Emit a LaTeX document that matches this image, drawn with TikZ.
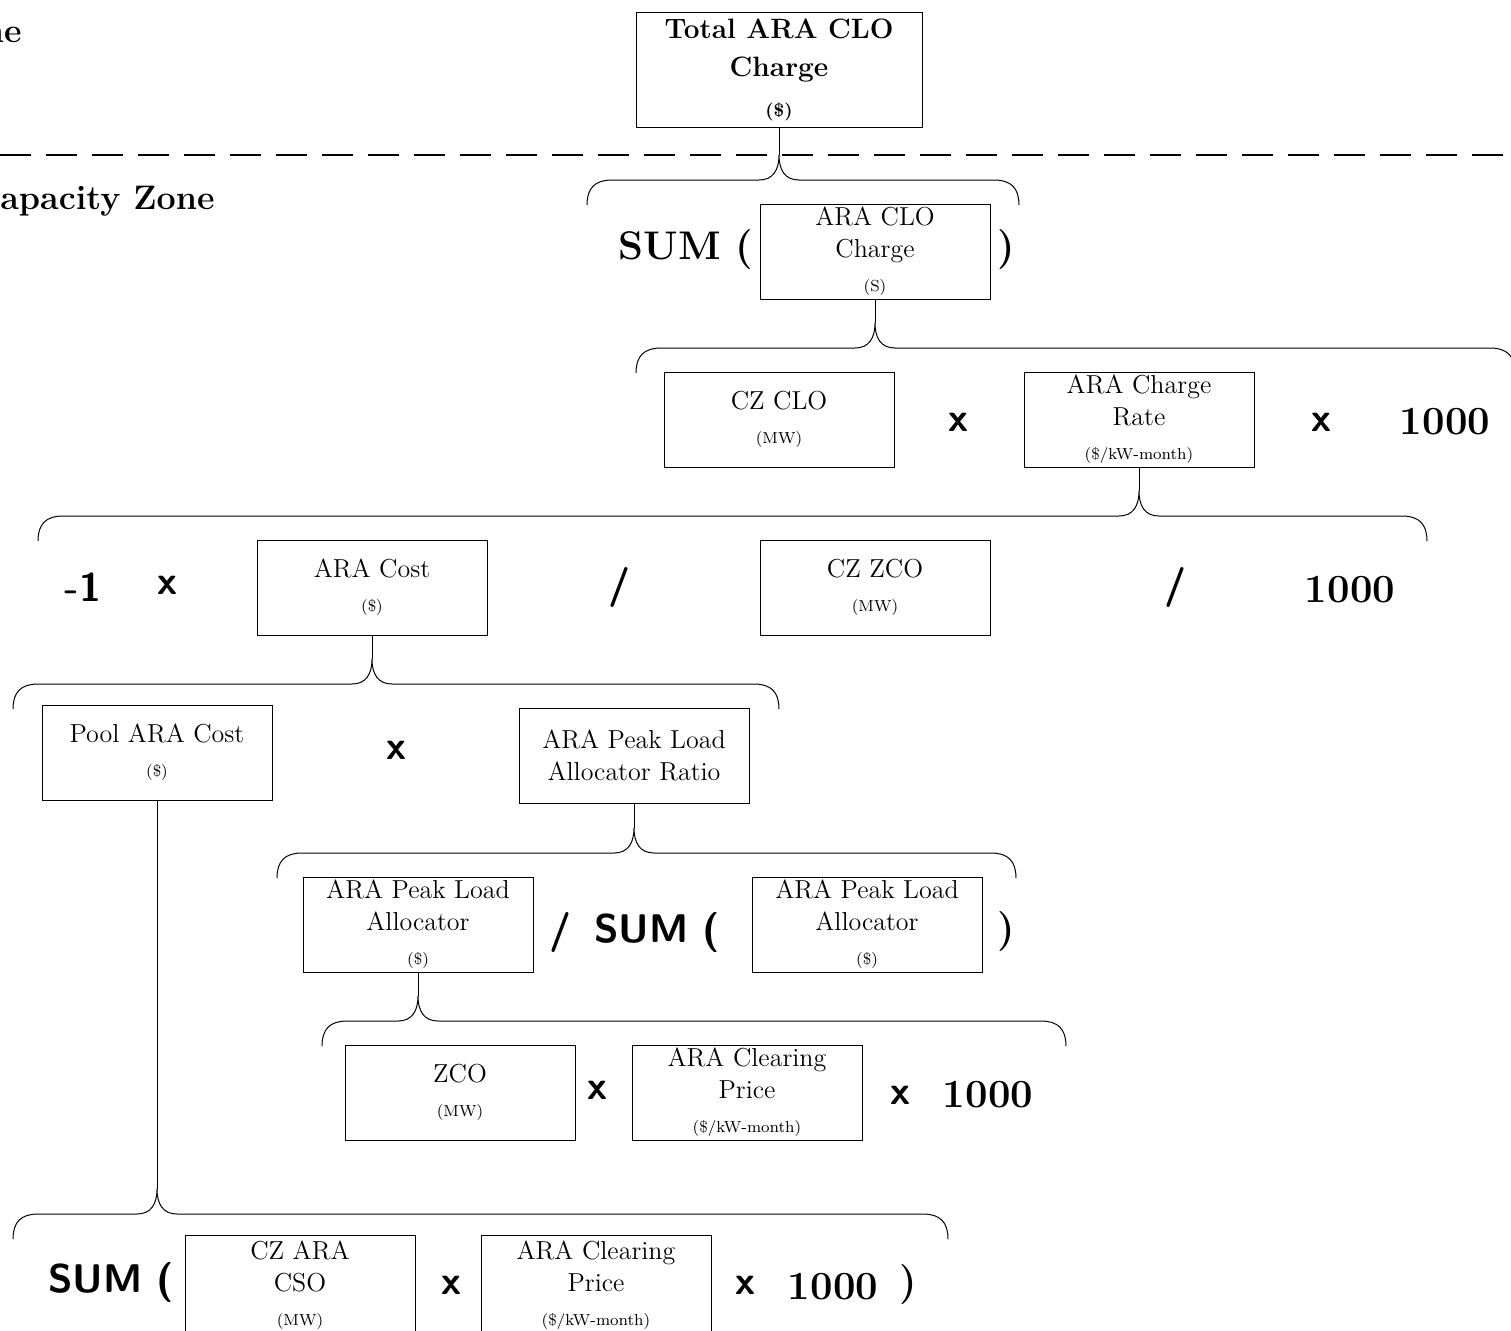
\documentclass[tikz,border=0pt]{standalone}
\usepackage{tikz}

\newcommand{\smallu}[1]{{\fontsize{8}{10}\selectfont #1}}
% curly brace hanging under a tip coordinate, ends given relative to the tip
\newcommand{\zbrace}[3]{%
  \draw[brace, shift={(#1)}] (#2,50) .. controls (#2,33) and (#2+8,25) .. (#2+25,25)
    -- (-20,25) .. controls (-6,25) and (0,15) .. (0,0)
    .. controls (0,15) and (6,25) .. (20,25)
    -- (#3-25,25) .. controls (#3-8,25) and (#3,33) .. (#3,50);}

\begin{document}
\begin{tikzpicture}[x=0.5pt, y=-0.5pt,
    box/.style={draw, line width=0.5pt, minimum width=115pt, minimum height=47.5pt, inner sep=0pt, align=center, font=\fontsize{13}{16}\selectfont},
    op/.style={inner sep=0pt, font=\sffamily\bfseries\fontsize{20}{22}\selectfont},
    opbig/.style={inner sep=0pt, font=\sffamily\bfseries\fontsize{20}{24}\selectfont},
    big/.style={inner sep=0pt, font=\bfseries\fontsize{20}{24}\selectfont},
    zonelbl/.style={inner sep=0pt, font=\bfseries\fontsize{17}{20}\selectfont},
    brace/.style={line width=0.5pt},
    zonesep/.style={line width=1pt, dash pattern=on 15.5pt off 7.5pt}
]
\useasboundingbox (0,0) rectangle (1511,1330);

% zone labels and separator
\node[zonelbl, anchor=east] (zonetop) at (22,35) {ne};
\node[zonelbl, anchor=west] (zonecap) at (0,201) {apacity Zone};
\draw[zonesep] (0,155) -- (1511,155);

% top level
\node[box, minimum width=143pt, minimum height=57.5pt, font=\bfseries\fontsize{14}{19}\selectfont] (total) at (779,69.5) {Total ARA CLO\\Charge\\[1pt]{\fontsize{9}{10}\selectfont (\$)}};
\coordinate (t1) at (779,155);
\draw[brace] (total.south) -- (t1);
\zbrace{t1}{-192}{240}

\node[big] (sum1) at (686,250) {SUM (};
\node[box] (clo) at (875,251.5) {ARA CLO\\Charge\\[1pt]\smallu{(S)}};
\node[big] (cls1) at (1006,250) {)};
\coordinate (t2) at (875,323);
\draw[brace] (clo.south) -- (t2);
\zbrace{t2}{-239}{640}

% CLO x rate x 1000
\node[box] (czclo) at (779,419.5) {CZ CLO\\[1pt]\smallu{(MW)}};
\node[op] (m1) at (958,422) {x};
\node[box] (rate) at (1139,419.5) {ARA Charge\\Rate\\[1pt]\smallu{(\$/kW-month)}};
\node[op] (m2) at (1321,422) {x};
\node[big] (k1) at (1445,422) {1000};
\coordinate (t3) at (1139,491);
\draw[brace] (rate.south) -- (t3);
\zbrace{t3}{-1101}{288}

% -1 x cost / zco / 1000
\node[opbig] (neg) at (83,587) {-1};
\node[op] (m3) at (167,585) {x};
\node[box] (cost) at (372,587.5) {ARA Cost\\[1pt]\smallu{(\$)}};
\node[opbig] (d1) at (619,587) {/};
\node[box] (czzco) at (875,587.5) {CZ ZCO\\[1pt]\smallu{(MW)}};
\node[opbig] (d2) at (1175,587) {/};
\node[big] (k2) at (1350,590) {1000};
\coordinate (t4) at (372,659);
\draw[brace] (cost.south) -- (t4);
\zbrace{t4}{-359}{407}

% pool cost x ratio
\node[box] (pool) at (157,752.5) {Pool ARA Cost\\[1pt]\smallu{(\$)}};
\node[op] (m4) at (396,750) {x};
\node[box] (ratio) at (634,755.5) {ARA Peak Load\\Allocator Ratio};
\coordinate (t5) at (634,828);
\draw[brace] (ratio.south) -- (t5);
\zbrace{t5}{-357}{382}

% allocator / sum(allocator)
\node[box] (plaA) at (418,924.5) {ARA Peak Load\\Allocator\\[1pt]\smallu{(\$)}};
\node[opbig] (d3) at (560,932) {/};
\node[opbig] (sum2) at (657,932) {SUM (};
\node[box] (plaB) at (867,924.5) {ARA Peak Load\\Allocator\\[1pt]\smallu{(\$)}};
\node[big] (cls2) at (1006,932) {)};
\coordinate (t6) at (418,996);
\draw[brace] (plaA.south) -- (t6);
\zbrace{t6}{-96}{648}

% zco x price x 1000
\node[box] (zco) at (460,1092.5) {ZCO\\[1pt]\smallu{(MW)}};
\node[op] (m5) at (597,1090) {x};
\node[box] (price1) at (747,1092.5) {ARA Clearing\\Price\\[1pt]\smallu{(\$/kW-month)}};
\node[op] (m6) at (900,1095) {x};
\node[big] (k3) at (988,1095) {1000};

% pool cost = sum(cso x price x 1000)
\coordinate (t7) at (157,1189);
\draw[brace] (pool.south) -- (t7);
\zbrace{t7}{-144}{791}
\node[opbig] (sum3) at (111,1282) {SUM (};
\node[box, minimum height=50pt] (cso) at (300,1285) {CZ ARA\\CSO\\[1pt]\smallu{(MW)}};
\node[op] (m7) at (451,1285) {x};
\node[box, minimum height=50pt] (price2) at (596,1285) {ARA Clearing\\Price\\[1pt]\smallu{(\$/kW-month)}};
\node[op] (m8) at (745,1285) {x};
\node[big] (k4) at (833,1287) {1000};
\node[big] (cls3) at (908,1285) {)};
\end{tikzpicture}
\end{document}
